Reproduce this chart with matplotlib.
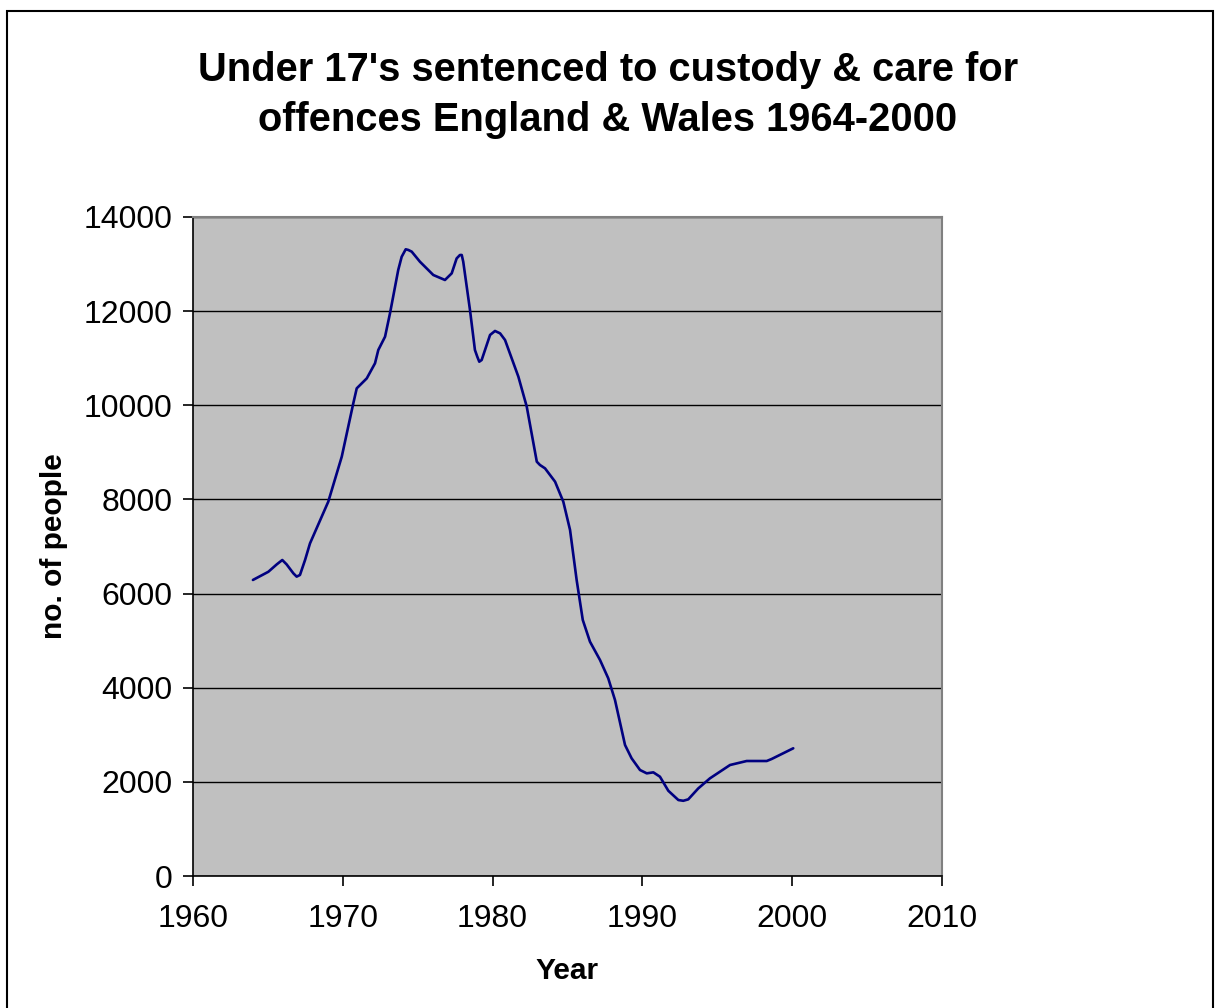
import matplotlib
matplotlib.use("Agg")
import matplotlib.pyplot as plt
from matplotlib.patches import Rectangle

plt.rcParams['font.family'] = ['Liberation Sans', 'DejaVu Sans']

# Values (year, number of people)
years = [1964.0, 1965.03, 1965.59, 1965.96, 1966.25, 1966.7, 1966.92, 1967.14,
         1967.48, 1967.81, 1969.03, 1969.93, 1970.70, 1970.93, 1971.6, 1972.15,
         1972.37, 1972.82, 1973.15, 1973.7, 1973.93, 1974.2, 1974.37, 1974.6,
         1975.15, 1976.04, 1976.82, 1977.27, 1977.6, 1977.82, 1977.94, 1978.04,
         1978.49, 1978.82, 1978.98, 1979.11, 1979.27, 1979.83, 1980.16, 1980.5,
         1980.83, 1981.72, 1982.28, 1982.95, 1983.16, 1983.5, 1984.17, 1984.72,
         1985.17, 1985.61, 1986.02, 1986.5, 1987.17, 1987.72, 1988.17, 1988.84,
         1989.28, 1989.84, 1990.29, 1990.73, 1991.17, 1991.73, 1992.4, 1992.73,
         1993.06, 1993.73, 1994.51, 1995.85, 1996.96, 1998.3, 1998.63, 2000.07]
people = [6289, 6463, 6620, 6713, 6620, 6430, 6360, 6395,
          6713, 7066, 7952, 8908, 10041, 10360, 10572, 10892,
          11175, 11457, 11953, 12874, 13155, 13314, 13300, 13264,
          13050, 12768, 12662, 12803, 13120, 13193, 13193, 13050,
          12025, 11175, 11030, 10926, 10962, 11494, 11579, 11528,
          11387, 10608, 9970, 8802, 8732, 8660, 8377, 7952,
          7351, 6289, 5439, 4978, 4589, 4200, 3739, 2783,
          2500, 2252, 2181, 2202, 2110, 1811, 1614, 1598,
          1628, 1861, 2075, 2358, 2443, 2443, 2486, 2713]

x_ticks = [1960, 1970, 1980, 1990, 2000, 2010]
y_ticks = [0, 2000, 4000, 6000, 8000, 10000, 12000, 14000]

title = "Under 17's sentenced to custody & care for\noffences England & Wales 1964-2000"

fig = plt.figure(figsize=(12.16, 10.08), dpi=100)
fig.patch.set_facecolor('white')

# outer chart frame
fig.patches.append(Rectangle((7 / 1216, -0.05), (1213 - 7) / 1216, 1.05 - 10.5 / 1008,
                             transform=fig.transFigure, fill=False,
                             edgecolor='black', linewidth=1.5))

ax = fig.add_axes([193 / 1216, 1 - 876 / 1008, (942 - 193) / 1216, (876 - 217) / 1008])
ax.set_facecolor('#C0C0C0')

ax.plot(years, people, color='#000080', linewidth=1.9, zorder=3,
        solid_joinstyle='round', solid_capstyle='round')

ax.set_xlim(1960, 2010)
ax.set_ylim(0, 14000)
ax.set_xticks(x_ticks)
ax.set_yticks(y_ticks)
ax.yaxis.grid(True, color='black', linewidth=1.0)
ax.set_axisbelow(True)

for s in ['top', 'right']:
    ax.spines[s].set_color('#808080')
    ax.spines[s].set_linewidth(1.5)
for s in ['left', 'bottom']:
    ax.spines[s].set_color('black')
    ax.spines[s].set_linewidth(1.2)

ax.tick_params(axis='both', direction='out', length=7, width=1.2, color='black',
               labelsize=23)
ax.tick_params(axis='x', pad=13)
ax.tick_params(axis='y', pad=8)

ax.set_xlabel('Year', fontsize=21.5, fontweight='bold', labelpad=17)
ax.set_ylabel('no. of people', fontsize=21.5, fontweight='bold', labelpad=11)

fig.suptitle(title, fontsize=28.7, fontweight='bold', y=1 - 51 / 1008, va='top',
             linespacing=1.4)

fig.savefig('out.png', dpi=100)
